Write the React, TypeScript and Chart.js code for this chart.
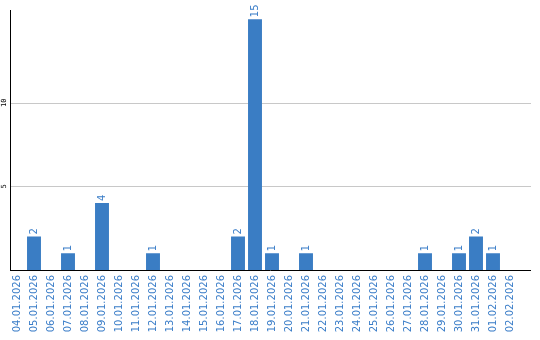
import { useEffect, useRef } from 'react';
import { Chart, registerables } from 'chart.js';

Chart.register(...registerables);

const categories = [
  '04.01.2026', '05.01.2026', '06.01.2026', '07.01.2026', '08.01.2026',
  '09.01.2026', '10.01.2026', '11.01.2026', '12.01.2026', '13.01.2026',
  '14.01.2026', '15.01.2026', '16.01.2026', '17.01.2026', '18.01.2026',
  '19.01.2026', '20.01.2026', '21.01.2026', '22.01.2026', '23.01.2026',
  '24.01.2026', '25.01.2026', '26.01.2026', '27.01.2026', '28.01.2026',
  '29.01.2026', '30.01.2026', '31.01.2026', '01.02.2026', '02.02.2026',
];
const values = [
  0, 2, 0, 1, 0,
  4, 0, 0, 1, 0,
  0, 0, 0, 2, 15,
  1, 0, 1, 0, 0,
  0, 0, 0, 0, 1,
  0, 1, 2, 1, 0,
];
const yTicks = [5, 10];
const yMax = 15.55;

const BLUE = '#3a7dc4';
const TEXT_BLUE = '#3a7dc8';

export default function App() {
  const ref = useRef<HTMLCanvasElement | null>(null);

  useEffect(() => {
    const canvas = ref.current;
    if (!canvas) return;

    const frame = {
      id: 'frame',
      beforeDatasetsDraw(chart: any) {
        const { ctx, chartArea, scales } = chart;
        const y = scales.y;
        ctx.save();
        ctx.strokeStyle = '#c8c8c8';
        ctx.lineWidth = 1;
        for (const v of yTicks) {
          const py = Math.round(y.getPixelForValue(v)) + 0.5;
          ctx.beginPath();
          ctx.moveTo(11, py);
          ctx.lineTo(chart.width - 9, py);
          ctx.stroke();
        }
        ctx.restore();
      },
      afterDatasetsDraw(chart: any) {
        const { ctx, chartArea, scales } = chart;
        const y = scales.y;
        const bottom = Math.round(y.getPixelForValue(0));
        ctx.save();
        ctx.strokeStyle = '#000000';
        ctx.lineWidth = 1;
        ctx.beginPath();
        ctx.moveTo(10.5, chartArea.top);
        ctx.lineTo(10.5, bottom + 1);
        ctx.stroke();
        ctx.beginPath();
        ctx.moveTo(10, bottom + 0.5);
        ctx.lineTo(chart.width - 9, bottom + 0.5);
        ctx.stroke();

        // value labels
        const meta = chart.getDatasetMeta(0);
        ctx.fillStyle = TEXT_BLUE;
        ctx.font = '10px "DejaVu Sans"';
        ctx.textAlign = 'left';
        ctx.textBaseline = 'middle';
        meta.data.forEach((bar: any, i: number) => {
          const v = values[i];
          if (!v) return;
          ctx.save();
          ctx.translate(bar.x, bar.y - 2);
          ctx.rotate(-Math.PI / 2);
          ctx.fillText(String(v), 0, 0);
          ctx.restore();
        });
        ctx.restore();
      },
    };

    const chart = new Chart(canvas, {
      type: 'bar',
      data: {
        labels: categories,
        datasets: [
          {
            data: values,
            backgroundColor: BLUE,
            borderWidth: 0,
            categoryPercentage: 1,
            barPercentage: 0.82,
          },
        ],
      },
      options: {
        animation: false,
        responsive: true,
        maintainAspectRatio: false,
        layout: { padding: { top: 10, right: 21.5, left: 0, bottom: 0 } },
        plugins: {
          legend: { display: false },
          tooltip: { enabled: false },
        },
        scales: {
          x: {
            grid: { display: false, drawTicks: false },
            border: { display: false },
            ticks: {
              autoSkip: false,
              minRotation: 90,
              maxRotation: 90,
              padding: 5,
              color: TEXT_BLUE,
              font: { family: '"DejaVu Sans"', size: 10 },
            },
            afterFit: (scale: any) => {
              scale.height = 70;
            },
          },
          y: {
            min: 0,
            max: yMax,
            grid: { display: false, drawTicks: false },
            border: { display: false },
            afterBuildTicks: (scale: any) => {
              scale.ticks = yTicks.map((v) => ({ value: v }));
            },
            ticks: {
              minRotation: 90,
              maxRotation: 90,
              crossAlign: 'center',
              padding: 0,
              color: '#000000',
              font: { family: '"DejaVu Sans Mono"', size: 7 },
            },
            afterFit: (scale: any) => {
              scale.width = 8.5;
            },
          },
        },
      },
      plugins: [frame],
    });

    return () => chart.destroy();
  }, []);

  return (
    <div style={{ position: 'absolute', left: 0, top: 0, width: 540, height: 340 }}>
      <canvas ref={ref} />
    </div>
  );
}
